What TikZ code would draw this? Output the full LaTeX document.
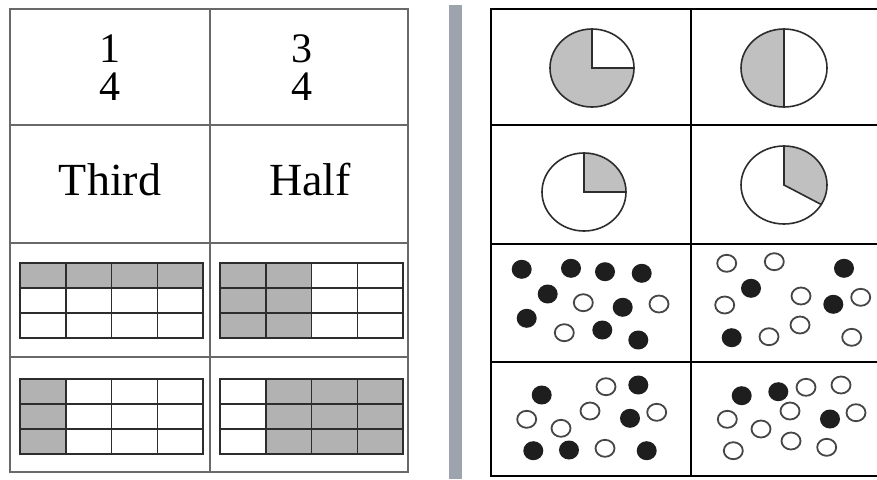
\documentclass[tikz,border=0pt]{standalone}
\usepackage{fontspec}
\setmainfont{Liberation Serif}
\definecolor{tablegray}{RGB}{105,105,105}
\definecolor{gridline}{RGB}{45,45,45}
\definecolor{cellshade}{RGB}{178,178,178}
\definecolor{pieshade}{RGB}{192,192,192}
\definecolor{sepcol}{RGB}{158,164,173}
\definecolor{dotcol}{RGB}{30,30,30}
\definecolor{ringcol}{RGB}{70,70,70}
\newcommand\fgrid[3]{%
  \foreach \c/\r in {#3} \fill[cellshade] ({#1+\c*45.75},{#2+\r*25}) rectangle ++(45.75,25);
  \draw[gline] (#1,#2) rectangle ++(183,75);
  \foreach \i in {1,2,3} \draw[gline] ({#1+\i*45.75},#2) -- ++(0,75);
  \foreach \j in {1,2} \draw[gline] (#1,{#2+\j*25}) -- ++(183,0);
}
\begin{document}
\begin{tikzpicture}[x=1pt,y=-1pt,
  tline/.style={draw=tablegray, line width=1.8pt},
  rline/.style={draw=black, line width=1.6pt},
  gline/.style={draw=gridline, line width=1.5pt},
  big/.style={font=\fontsize{42}{42}\selectfont, inner sep=0pt, anchor=base},
  word/.style={font=\fontsize{46}{46}\selectfont, inner sep=0pt, anchor=base},
  pieline/.style={draw=gridline, line width=1.6pt},
  fdot/.style={fill=dotcol},
  odot/.style={draw=ringcol, line width=1.8pt, fill=white}]
\useasboundingbox (0,0) rectangle (877,479);
\fill[white] (0,0) rectangle (877,479);

% ---- left table ----
\draw[tline] (10,9) rectangle (408,472);
\draw[tline] (210,9) -- (210,472);
\foreach \y in {125,243,357} \draw[tline] (10,\y) -- (408,\y);

\node[big] (n1) at (110,62) {1};
\node[big] (d1) at (110,100) {4};
\node[big] (n3) at (302,62) {3};
\node[big] (d3) at (302,100) {4};
\node[word] (third) at (110,195) {Third};
\node[word] (half) at (310,195) {Half};

\fgrid{20}{263}{0/0,1/0,2/0,3/0}
\fgrid{220}{263}{0/0,0/1,0/2,1/0,1/1,1/2}
\fgrid{20}{379}{0/0,0/1,0/2}
\fgrid{220}{379}{1/0,1/1,1/2,2/0,2/1,2/2,3/0,3/1,3/2}

% ---- separator ----
\fill[sepcol] (449,5) rectangle (462,479);

% ---- right table ----
\draw[rline] (877,9) -- (491,9) -- (491,476) -- (877,476);
\draw[rline] (691,9) -- (691,476);
\foreach \y in {125,244,362} \draw[rline] (491,\y) -- (877,\y);

% pies
\fill[white] (592,68) ellipse [x radius=42, y radius=39];
\fill[pieshade] (592,68) -- (592,29) arc[start angle=-90, end angle=-360, x radius=42, y radius=39] -- cycle;
\draw[pieline] (592,68) ellipse [x radius=42, y radius=39];
\draw[pieline] (592,29) -- (592,68) -- (634,68);

\fill[pieshade] (784,68) -- (784,29) arc[start angle=-90, end angle=-270, x radius=43, y radius=39] -- cycle;
\draw[pieline] (784,68) ellipse [x radius=43, y radius=39];
\draw[pieline] (784,29) -- (784,107);

\fill[pieshade] (584,192) -- (584,153) arc[start angle=-90, end angle=0, x radius=42, y radius=39] -- cycle;
\draw[pieline] (584,192) ellipse [x radius=42, y radius=39];
\draw[pieline] (584,153) -- (584,192) -- (626,192);

\fill[pieshade] (784,185) -- (784,146) arc[start angle=-90, end angle=30, x radius=43, y radius=39] -- cycle;
\draw[pieline] (784,185) ellipse [x radius=43, y radius=39];
\draw[pieline] (784,146) -- (784,185) -- ({784+43*cos(30)},{185+39*sin(30)});

% dots cell 1
\foreach \x/\y in {521.7/269.3,571/268.3,605/271.7,641.7/273.3,547.7/294,622.7/307.3,526.7/318.3,602.3/330,638.3/340}
  \fill[fdot] (\x,\y) ellipse [x radius=10, y radius=9.5];
\foreach \x/\y in {583.3/302.7,659/304,564.3/332.7}
  \draw[odot] (\x,\y) ellipse [x radius=9.5, y radius=8.5];
% dots cell 2
\foreach \x/\y in {844/268.3,751/288.3,833.3/304.3,731.7/337.7}
  \fill[fdot] (\x,\y) ellipse [x radius=10, y radius=9.5];
\foreach \x/\y in {726.7/263.3,774.3/261.7,724.7/305,801/296,860.7/297.3,800/325,769/336.7,851.7/337.3}
  \draw[odot] (\x,\y) ellipse [x radius=9.5, y radius=8.5];
% dots cell 3
\foreach \x/\y in {541.7/395,638.3/385,630/418.3,533.3/450.7,569/450,646.7/450.7}
  \fill[fdot] (\x,\y) ellipse [x radius=10, y radius=9.5];
\foreach \x/\y in {606/386.7,590/411,656.7/412.3,526.7/419.3,561/428.3,605/448.3}
  \draw[odot] (\x,\y) ellipse [x radius=9.5, y radius=8.5];
% dots cell 4
\foreach \x/\y in {741.7/395.7,778.3/391.7,830/419}
  \fill[fdot] (\x,\y) ellipse [x radius=10, y radius=9.5];
\foreach \x/\y in {806/387.3,841/385,790/411,856/412.7,727.3/419.3,761/429,791/441,733.3/450.7,826.7/447.3}
  \draw[odot] (\x,\y) ellipse [x radius=9.5, y radius=8.5];
\end{tikzpicture}
\end{document}
